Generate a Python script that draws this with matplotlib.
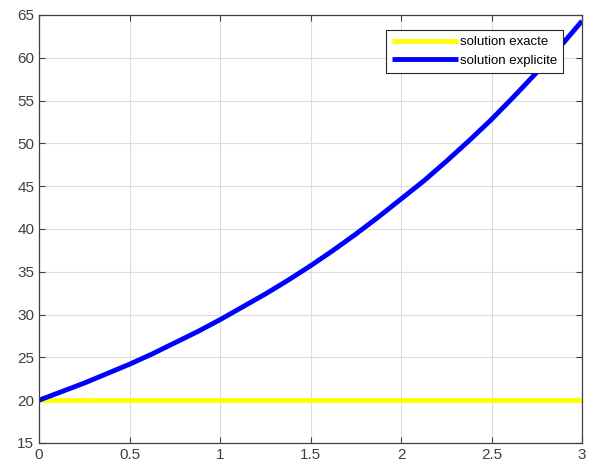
import matplotlib
matplotlib.use("Agg")
import matplotlib.pyplot as plt

plt.rcParams['font.family'] = ['Liberation Sans', 'DejaVu Sans']

# values
x = [0, 0.125, 0.25, 0.375, 0.5, 0.625, 0.75, 0.875, 1.0, 1.125, 1.25, 1.375,
     1.5, 1.625, 1.75, 1.875, 2.0, 2.125, 2.25, 2.375, 2.5, 2.625, 2.75, 2.875, 3.0]
explicite = [20.0, 21.0, 22.0, 23.1, 24.2, 25.4, 26.7, 28.0, 29.4, 30.9, 32.4, 34.0,
             35.7, 37.5, 39.4, 41.4, 43.5, 45.6, 47.9, 50.3, 52.8, 55.5, 58.3, 61.2, 64.3]
exacte = [20.0] * len(x)

xticks = [0, 0.5, 1, 1.5, 2, 2.5, 3]
xticklabels = ['0', '0.5', '1', '1.5', '2', '2.5', '3']
yticks = [15, 20, 25, 30, 35, 40, 45, 50, 55, 60, 65]

fig = plt.figure(figsize=(5.89, 4.72), dpi=100)
ax = fig.add_axes([39/589, 29/472, 543/589, 428/472])

ax.plot(x, exacte, color='#ffff00', lw=3.5, label='solution exacte', solid_capstyle='butt')
ax.plot(x, explicite, color='#0000ff', lw=3.5, label='solution explicite', solid_capstyle='butt')

ax.set_xlim(0, 3)
ax.set_ylim(15, 65)
ax.set_xticks(xticks)
ax.set_xticklabels(xticklabels)
ax.set_yticks(yticks)
ax.grid(True, color='#dcdcdc', lw=0.8)
ax.set_axisbelow(True)
ax.tick_params(direction='in', top=True, right=True, labelsize=11,
               colors='#404040', length=4, width=0.8)
for s in ax.spines.values():
    s.set_color('#404040')
    s.set_linewidth(0.9)

leg = ax.legend(loc='upper right', bbox_to_anchor=(0.965, 0.965), fontsize=9.5,
                fancybox=False, framealpha=1, edgecolor='#262626',
                borderpad=0.45, handlelength=5.0, handletextpad=0.15,
                labelspacing=0.5, borderaxespad=0)
leg.get_frame().set_linewidth(0.8)

fig.savefig('out.png', dpi=100)
